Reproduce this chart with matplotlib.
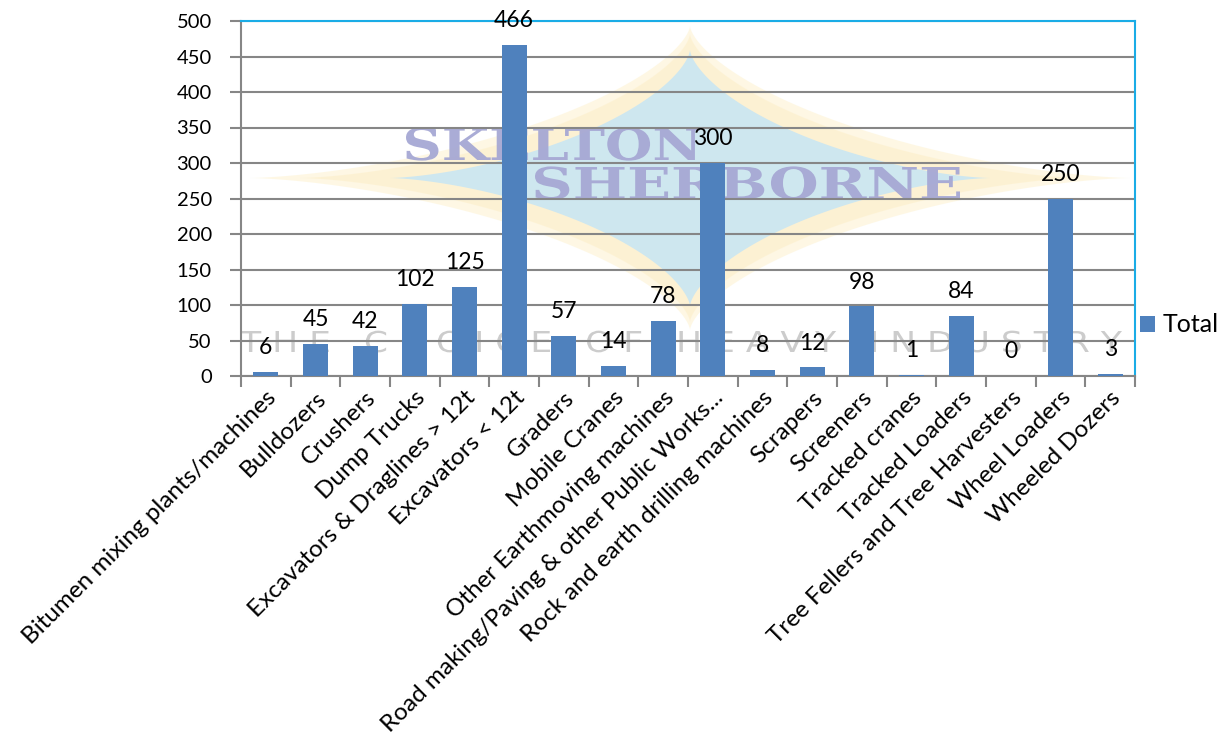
import numpy as np
import matplotlib
matplotlib.use("Agg")
import matplotlib.pyplot as plt
from matplotlib.textpath import TextPath
from matplotlib.patches import PathPatch
from matplotlib.font_manager import FontProperties
from matplotlib.transforms import Affine2D

categories = [
    "Bitumen mixing plants/machines", "Bulldozers", "Crushers", "Dump Trucks",
    "Excavators & Draglines > 12t", "Excavators < 12t", "Graders", "Mobile Cranes",
    "Other Earthmoving machines", "Road making/Paving & other Public Works...",
    "Rock and earth drilling machines", "Scrapers", "Screeners", "Tracked cranes",
    "Tracked Loaders", "Tree Fellers and Tree Harvesters", "Wheel Loaders", "Wheeled Dozers",
]
totals = [6, 45, 42, 102, 125, 466, 57, 14, 78, 300, 8, 12, 98, 1, 84, 0, 250, 3]
y_ticks = [0, 50, 100, 150, 200, 250, 300, 350, 400, 450, 500]

BAR = "#4F81BD"
GRID = "#868686"
FRAME = "#1AACE6"
FONT = "Lato"

plt.rcParams["font.family"] = [FONT, "DejaVu Sans"]

W, H = 1220, 736
fig = plt.figure(figsize=(W / 100, H / 100), dpi=100)

# background watermark layer, in pixel coordinates (y down)
bg = fig.add_axes([0, 0, 1, 1], zorder=0)
bg.set_xlim(0, W)
bg.set_ylim(H, 0)
bg.axis("off")
t = np.linspace(0, 2 * np.pi, 400)
cx, cy = 690, 178
for a, b, col, al in [(440, 152, "#FEF6DE", 0.8), (390, 144, "#FCEDC4", 0.5), (300, 128, "#C9E6F3", 0.9)]:
    bg.fill(cx + a * np.cos(t) ** 3, cy + b * np.sin(t) ** 3, color=col, alpha=al, lw=0)


def stretched_text(s, x0, x1, baseline, cap_h, color, family, weight="normal", alpha=1.0):
    fp = FontProperties(family=family, weight=weight)
    p = TextPath((0, 0), s, size=1, prop=fp)
    ext = p.get_extents()
    cap = TextPath((0, 0), "H", size=1, prop=fp).get_extents().height
    sx = (x1 - x0) / ext.width
    sy = cap_h / cap
    tr = Affine2D().translate(-ext.x0, 0).scale(sx, -sy).translate(x0, baseline)
    bg.add_patch(PathPatch(tr.transform_path(p), facecolor=color, edgecolor="none", alpha=alpha))


stretched_text("SKELTON", 406, 700, 160, 32, "#A6A8D4", "DejaVu Serif", "bold", 0.95)
stretched_text("SHERBORNE", 535, 960, 199, 32, "#A6A8D4", "DejaVu Serif", "bold", 0.95)
stretched_text("T H E   C H O I C E   O F   H E A V Y   I N D U S T R Y", 240, 1122, 352, 21,
               "#CCCCCC", "DejaVu Sans", "normal", 1.0)

ax = fig.add_axes([241 / W, 1 - 376 / H, (1135 - 241) / W, (376 - 21) / H], zorder=1)
ax.patch.set_alpha(0)

x = np.arange(len(categories))
ax.bar(x, totals, width=0.5, color=BAR, label="Total", zorder=3)
for xi, v in zip(x, totals):
    ax.annotate(str(v), (xi, v), xytext=(0, 10), textcoords="offset points",
                ha="center", va="bottom", fontsize=16.5, color="black", zorder=4)

ax.set_xlim(-0.5, len(categories) - 0.5)
ax.set_ylim(0, 500)
ax.set_yticks(y_ticks)
ax.set_yticklabels([str(v) for v in y_ticks], fontsize=14.5)
ax.yaxis.grid(True, color=GRID, lw=1.5, zorder=1)
ax.set_axisbelow(True)

ax.set_xticks(x)
ax.set_xticklabels(categories, rotation=45, ha="right", va="top",
                   rotation_mode="anchor", fontsize=17.5)
ax.set_xticks(np.arange(len(categories) + 1) - 0.5, minor=True)
ax.tick_params(axis="x", which="major", length=0, pad=8)
ax.tick_params(axis="x", which="minor", length=8, color=GRID, width=1.5)
ax.tick_params(axis="y", length=8, color=GRID, width=1.5, pad=13)

for side in ["left", "bottom"]:
    ax.spines[side].set_color(GRID)
    ax.spines[side].set_linewidth(1.5)
for side in ["top", "right"]:
    ax.spines[side].set_color(FRAME)
    ax.spines[side].set_linewidth(1.5)

fig.legend(*ax.get_legend_handles_labels(), loc="center left",
           bbox_to_anchor=(1140 / W, 1 - 325 / H), frameon=False, fontsize=18,
           handlelength=0.6, handleheight=0.6, handletextpad=0.3,
           borderpad=0, borderaxespad=0)

fig.savefig("out.png", dpi=100)
